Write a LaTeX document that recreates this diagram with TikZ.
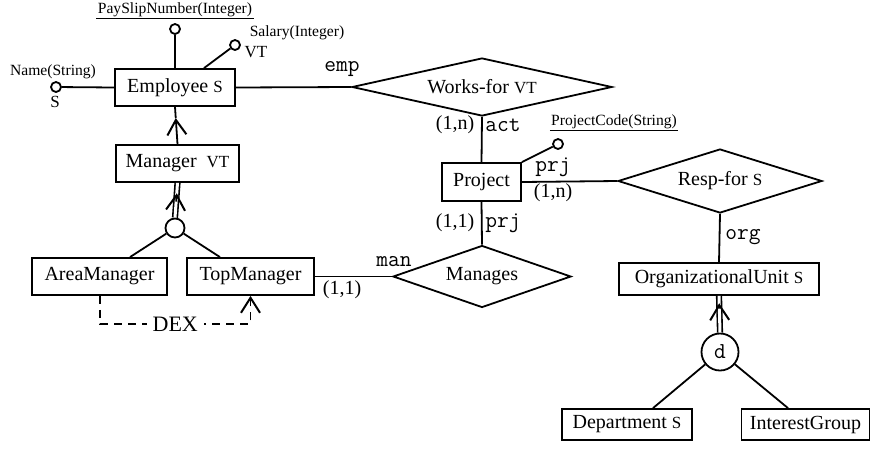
\documentclass[tikz,border=0pt]{standalone}
\usepackage{fontspec}
\setmainfont{Liberation Serif}
\usetikzlibrary{shapes.geometric,arrows.meta,decorations.markings,calc}
\newcommand{\sfx}[1]{{\fontsize{8.5}{9}\selectfont #1}}
\tikzset{barb/.tip={Straight Barb[length=7.5pt,width=9.5pt,line width=1pt]}}
\begin{document}
\begin{tikzpicture}[x=0.5pt,y=-0.5pt,
  every node/.style={font=\fontsize{10}{12}\selectfont},
  ent/.style={draw,line width=0.9pt,inner sep=0pt,minimum height=18.5pt},
  rel/.style={draw,diamond,aspect=5,inner sep=0pt,line width=0.9pt},
  attr/.style={draw,circle,inner sep=0pt,minimum size=5pt,line width=0.9pt},
  gen/.style={draw,circle,inner sep=0pt,line width=0.9pt},
  lbl/.style={inner sep=0pt},
  mono/.style={inner sep=0pt,font=\fontsize{11.4}{12}\selectfont\ttfamily},
  small/.style={font=\fontsize{7.8}{9}\selectfont,inner sep=0.5pt},
  ln/.style={line width=0.9pt},
  dbl/.style={double,line width=0.8pt,double distance=1.5pt}
]
\useasboundingbox (0,0) rectangle (871,451);

% entities
\node[ent,minimum width=60pt] (emp) at (175,87.5) {Employee \sfx{S}};
\node[ent,minimum width=61.5pt] (mgr) at (177.5,163.5) {Manager \ \sfx{VT}};
\node[ent,minimum width=67.5pt] (area) at (99.5,276.5) {AreaManager};
\node[ent,minimum width=63.5pt] (top) at (250.5,276.5) {TopManager};
\node[ent,minimum width=39.5pt,minimum height=19pt] (proj) at (481.5,182) {Project};
\node[ent,minimum width=100pt,minimum height=16pt] (ou) at (719,279) {OrganizationalUnit \sfx{S}};
\node[ent,minimum width=65pt,minimum height=15.5pt] (dept) at (627,424.5) {Department \sfx{S}};
\node[ent,minimum width=64pt,minimum height=15.5pt] (ig) at (805.5,424.5) {InterestGroup};

% relationships
\node[rel,minimum width=130pt,minimum height=29pt] (works) at (482,87) {Works-for \sfx{VT}};
\node[rel,minimum width=102pt,minimum height=32pt] (resp) at (720,181) {Resp-for \sfx{S}};
\node[rel,minimum width=89pt,minimum height=31pt] (manages) at (482,276.5) {Manages};

% generalisation circles
\node[gen,minimum size=9.5pt] (g1) at (175,228) {};
\node[gen,minimum size=18.5pt,font=\fontsize{11.4}{12}\selectfont\ttfamily] (g2) at (720,352) {d};

% arrow tip positions on the is-a links
\coordinate (t1) at ($(mgr.north)!0.7!(emp.south)$);
\coordinate (t2) at ($(g1.north)!0.7!(mgr.south)$);
\coordinate (t3) at ($(g2.north)!0.8!(ou.south)$);

% attributes
\node[attr] (aname) at (56,87) {};
\node[attr] (apay) at (175,29) {};
\node[attr] (asal) at (235,45) {};
\node[attr] (apc) at (558,144) {};

\node[small] (lname) at (53,72) {Name(String)};
\node[lbl,font=\fontsize{8.5}{9}\selectfont] (sname) at (55,102) {S};
\node[small] (lpay) at (175,10) {PaySlipNumber(Integer)};
\draw[line width=0.7pt] (lpay.south west) -- (lpay.south east);
\node[small] (lsal) at (297,33) {Salary(Integer)};
\node[lbl,font=\fontsize{8.5}{9}\selectfont] (vsal) at (256,52) {VT};
\node[small] (lpc) at (614,122) {ProjectCode(String)};
\draw[line width=0.7pt] (lpc.south west) -- (lpc.south east);

\draw[ln] (aname) -- (emp.west);
\draw[ln] (apay) -- (emp.north);
\draw[ln] ($(emp.north)+(29,0)$) -- (asal);
\draw[ln] (proj.north east) -- (apc);

% relationship links
\draw[ln] (emp.east) -- (works.west);
\draw[ln] (works.south) -- (proj.north);
\draw[ln] (proj.east) -- (resp.west);
\draw[ln] (resp.south) -- (ou.north);
\draw[ln] (proj.south) -- (manages.north);
\draw[ln] (top.east) -- (manages.west);

% labels
\node[mono] (l1) at (342,69) {emp};
\node[lbl] (l2) at (455,125) {(1,n)};
\node[mono] (l3) at (503,125) {act};
\node[mono] (l4) at (553,167) {prj};
\node[lbl] (l5) at (553,193) {(1,n)};
\node[lbl] (l6) at (455,223) {(1,1)};
\node[mono] (l7) at (503,223) {prj};
\node[mono] (l8) at (394,262) {man};
\node[lbl] (l9) at (342,290) {(1,1)};
\node[mono] (l10) at (743,237) {org};

% is-a
\draw[ln,-barb] (mgr.north) -- (t1);
\draw[ln] (t1) -- (emp.south);

% generalisations
\draw[dbl] (g1.north) -- (mgr.south);
\draw[ln,-barb,shorten <=8pt] (g1.north) -- (t2);
\draw[ln] (g1) -- ($(area.north)+(30.5,0)$);
\draw[ln] (g1) -- ($(top.north)+(-30.5,0)$);

\draw[dbl] (g2.north) -- (ou.south);
\draw[ln,-barb,shorten <=12pt] (g2.north) -- (t3);
\draw[ln] (g2) -- ($(dept.north)+(26,0)$);
\draw[ln] (g2) -- ($(ig.north)+(-17.5,0)$);

% DEX
\draw[ln,dash pattern=on 4pt off 3pt,-barb]
  ($(area.south)+(0.5,0)$) -- ++(0,28) -| (top.south)
  node[pos=0.25,fill=white,inner sep=3pt,font=\fontsize{11}{12}\selectfont] {DEX};
\end{tikzpicture}
\end{document}
